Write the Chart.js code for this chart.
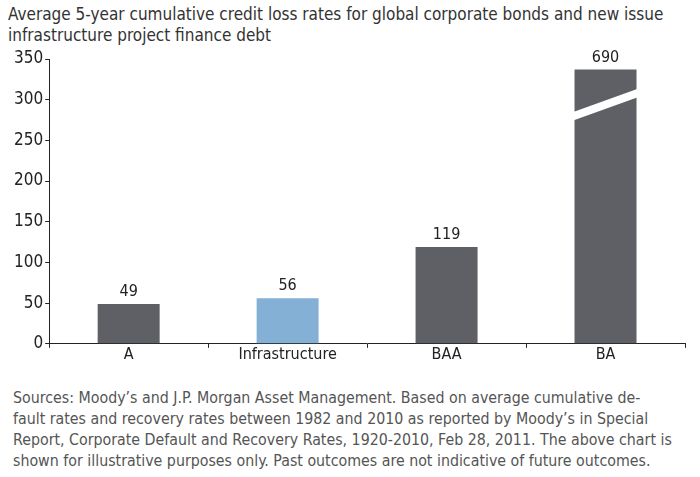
<!DOCTYPE html>
<html>
<head>
<meta charset="utf-8">
<script src="https://cdn.jsdelivr.net/npm/chart.js@4"></script>
<style>
    body { margin: 0; background: #fff; font-family: "DejaVu Sans Condensed", "Liberation Sans Narrow", sans-serif; }
    #title { position: absolute; left: 8px; top: 4px; font-size: 17px; line-height: 21px; color: #333; white-space: nowrap; }
    #wrap { position: absolute; left: 0; top: 45px; width: 700px; height: 325px; }
    #notes { position: absolute; left: 13px; top: 387px; font-size: 15.8px; line-height: 21px; color: #555; white-space: nowrap; }
</style>
</head>
<body>
<div id="title"></div>
<div id="wrap"><canvas id="myChart"></canvas></div>
<div id="notes"></div>
<script>
const titleLines = [
    'Average 5-year cumulative credit loss rates for global corporate bonds and new issue',
    'infrastructure project finance debt'
];
const categories = ['A', 'Infrastructure', 'BAA', 'BA'];
const lossRates = [49, 56, 119, 690];
// BA bar is cut off at the top of the axis, drawn with a break
const axisCap = 337;
const breakFrom = 280;
const breakTo = 308;
const yTicks = [0, 50, 100, 150, 200, 250, 300, 350];
const noteLines = [
    'Sources: Moody\u2019s and J.P. Morgan Asset Management. Based on average cumulative de-',
    'fault rates and recovery rates between 1982 and 2010 as reported by Moody\u2019s in Special',
    'Report, Corporate Default and Recovery Rates, 1920-2010, Feb 28, 2011. The above chart is',
    'shown for illustrative purposes only. Past outcomes are not indicative of future outcomes.'
];

document.getElementById('title').innerHTML = titleLines.join('<br>');
document.getElementById('notes').innerHTML = noteLines.join('<br>');

const fontFamily = '"DejaVu Sans Condensed", "Liberation Sans Narrow", sans-serif';
const dark = '#5f6066';
const light = '#85b0d6';

const valueLabels = {
    id: 'valueLabels',
    afterDatasetsDraw(chart) {
        const ctx = chart.ctx;
        const meta = chart.getDatasetMeta(0);
        ctx.save();
        ctx.font = '16px ' + fontFamily;
        ctx.fillStyle = '#222';
        ctx.textAlign = 'center';
        ctx.textBaseline = 'bottom';
        meta.data.forEach((bar, i) => {
            ctx.fillText(String(lossRates[i]), bar.x, bar.y - 4);
        });
        ctx.restore();
    }
};

const axisBreak = {
    id: 'axisBreak',
    afterDatasetsDraw(chart) {
        const ctx = chart.ctx;
        const y = chart.scales.y;
        const meta = chart.getDatasetMeta(0);
        meta.data.forEach((bar, i) => {
            if (lossRates[i] <= axisCap) return;
            const half = bar.width / 2;
            ctx.save();
            ctx.strokeStyle = '#fff';
            ctx.lineWidth = 8;
            ctx.beginPath();
            ctx.moveTo(bar.x - half - 2, y.getPixelForValue(breakFrom - 0.6));
            ctx.lineTo(bar.x + half + 2, y.getPixelForValue(breakTo + 0.6));
            ctx.stroke();
            ctx.restore();
        });
    }
};

new Chart(document.getElementById('myChart'), {
    type: 'bar',
    data: {
        labels: categories,
        datasets: [{
            data: lossRates.map(v => Math.min(v, axisCap)),
            backgroundColor: categories.map(c => c === 'Infrastructure' ? light : dark),
            barPercentage: 0.78,
            categoryPercentage: 0.5
        }]
    },
    options: {
        responsive: true,
        maintainAspectRatio: false,
        animation: false,
        layout: { padding: { top: 14, right: 15, left: 12, bottom: 9 } },
        plugins: {
            legend: { display: false },
            tooltip: { enabled: false }
        },
        scales: {
            x: {
                grid: { drawOnChartArea: false, tickLength: 4, color: '#222', offset: true },
                border: { color: '#222', width: 1 },
                ticks: { color: '#222', font: { family: fontFamily, size: 16 }, padding: -3 }
            },
            y: {
                min: 0,
                max: 350,
                afterBuildTicks(axis) { axis.ticks = yTicks.map(v => ({ value: v })); },
                grid: { drawOnChartArea: false, tickLength: 4, color: '#222' },
                border: { color: '#222', width: 1 },
                ticks: { color: '#222', font: { family: fontFamily, size: 17 }, padding: 2 }
            }
        }
    },
    plugins: [valueLabels, axisBreak]
});
</script>
</body>
</html>
